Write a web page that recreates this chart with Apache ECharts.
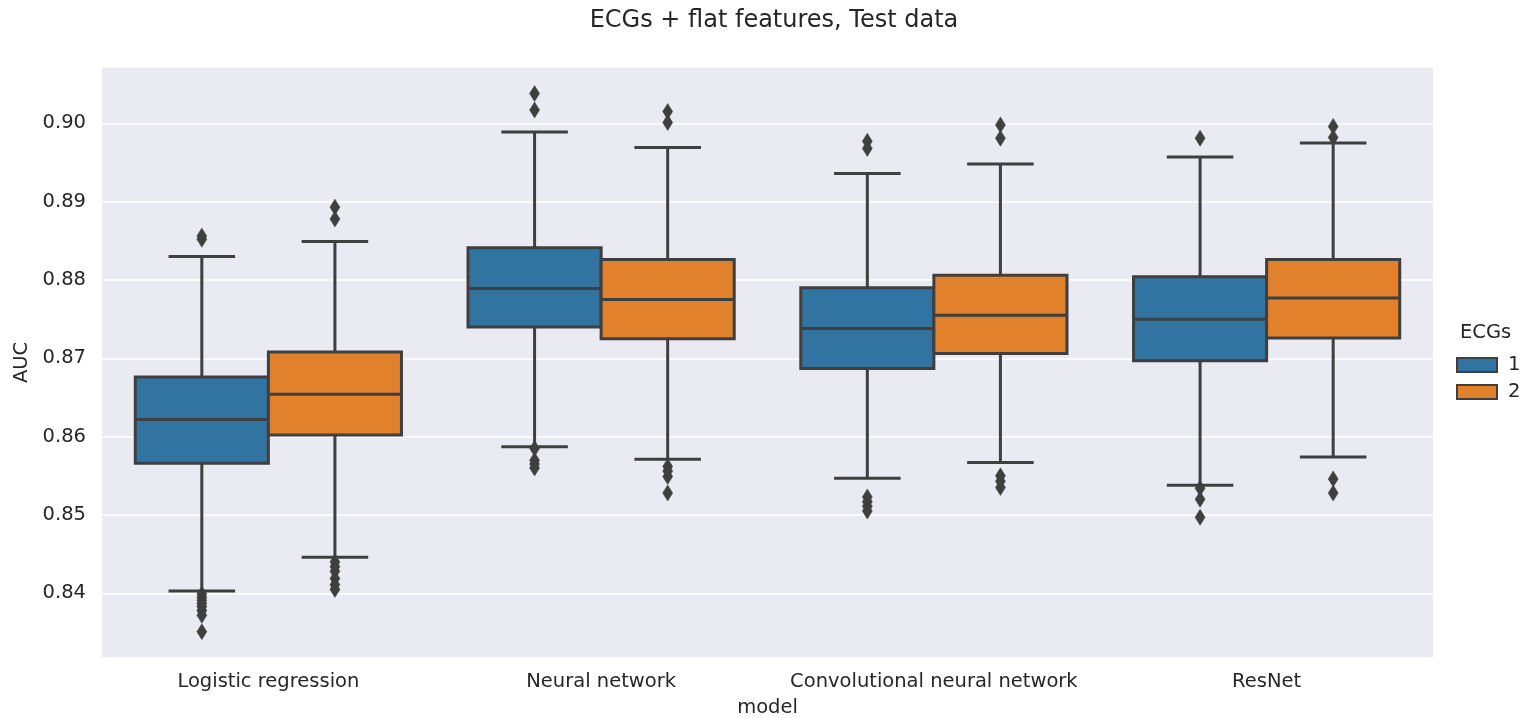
<!DOCTYPE html>
<html>
<head>
<meta charset="utf-8">
<script src="https://cdn.jsdelivr.net/npm/echarts@6/dist/echarts.min.js"></script>
<style>
  html, body { margin: 0; padding: 0; background: #ffffff; }
  #chart { width: 1522px; height: 718px; }
</style>
</head>
<body>
<div id="chart"></div>
<script>
// Categories and hue levels
const models = ['Logistic regression', 'Neural network', 'Convolutional neural network', 'ResNet'];
const hueLevels = ['1', '2'];

// Box statistics per model: [lower whisker, Q1, median, Q3, upper whisker]
const ecg1Boxes = [
  [0.8403, 0.8566, 0.8622, 0.8676, 0.8830],
  [0.8587, 0.8740, 0.8789, 0.8841, 0.8989],
  [0.8547, 0.8687, 0.8738, 0.8790, 0.8936],
  [0.8538, 0.8697, 0.8750, 0.8804, 0.8957]
];
const ecg2Boxes = [
  [0.8446, 0.8602, 0.8654, 0.8708, 0.8849],
  [0.8571, 0.8725, 0.8775, 0.8826, 0.8969],
  [0.8567, 0.8706, 0.8755, 0.8806, 0.8948],
  [0.8574, 0.8726, 0.8777, 0.8826, 0.8975]
];

// Points beyond the whiskers, per model
const ecg1Outliers = [
  [0.8856, 0.8852, 0.8399, 0.8395, 0.8391, 0.8387, 0.8383, 0.8378, 0.8372, 0.8351],
  [0.9038, 0.9017, 0.8585, 0.8570, 0.8565, 0.8560],
  [0.8977, 0.8968, 0.8523, 0.8517, 0.8511, 0.8505],
  [0.8981, 0.8534, 0.8520, 0.8497]
];
const ecg2Outliers = [
  [0.8893, 0.8878, 0.8440, 0.8434, 0.8428, 0.8419, 0.8411, 0.8405],
  [0.9015, 0.9001, 0.8562, 0.8556, 0.8549, 0.8528],
  [0.8998, 0.8981, 0.8550, 0.8543, 0.8535],
  [0.8996, 0.8982, 0.8546, 0.8528]
];

const FONT = 'DejaVu Sans';
const TEXT = '#262626';
const EDGE = '#3f3f3f';
const FILLS = ['#3274a1', '#e1812c'];
const LW = 3;
const FS = 19.5;

// Horizontal placement of a hue box inside its category band
function boxGeom(api, cat, hueIdx) {
  const band = api.size([1, 0])[0];
  const center = api.coord([cat, 0.87])[0];
  const w = band * 0.4;
  const left = center - band * 0.4 + hueIdx * w;
  return { left: left, w: w, mid: left + w / 2 };
}

function boxRenderer(hueIdx) {
  return function (params, api) {
    const cat = api.value(0);
    const g = boxGeom(api, cat, hueIdx);
    const y = function (i) { return api.coord([cat, api.value(i)])[1]; };
    const yMin = y(1), yQ1 = y(2), yMed = y(3), yQ3 = y(4), yMax = y(5);
    const ls = { stroke: EDGE, lineWidth: LW };
    const cap = g.w / 4;
    return {
      type: 'group',
      children: [
        { type: 'line', shape: { x1: g.mid, y1: yQ3, x2: g.mid, y2: yMax }, style: ls },
        { type: 'line', shape: { x1: g.mid, y1: yQ1, x2: g.mid, y2: yMin }, style: ls },
        { type: 'line', shape: { x1: g.mid - cap, y1: yMax, x2: g.mid + cap, y2: yMax }, style: ls },
        { type: 'line', shape: { x1: g.mid - cap, y1: yMin, x2: g.mid + cap, y2: yMin }, style: ls },
        { type: 'rect', shape: { x: g.left, y: yQ3, width: g.w, height: yQ1 - yQ3 },
          style: { fill: FILLS[hueIdx], stroke: EDGE, lineWidth: LW } },
        { type: 'line', shape: { x1: g.left, y1: yMed, x2: g.left + g.w, y2: yMed }, style: ls }
      ]
    };
  };
}

function outlierRenderer(hueIdx) {
  return function (params, api) {
    const cat = api.value(0);
    const g = boxGeom(api, cat, hueIdx);
    const yc = api.coord([cat, api.value(1)])[1];
    const hw = 5, hh = 8;
    return {
      type: 'polygon',
      shape: { points: [[g.mid, yc - hh], [g.mid + hw, yc], [g.mid, yc + hh], [g.mid - hw, yc]] },
      style: { fill: EDGE, stroke: EDGE, lineWidth: 0.5 }
    };
  };
}

function boxData(boxes) {
  return boxes.map(function (b, i) { return [i].concat(b); });
}
function outlierData(outs) {
  const rows = [];
  outs.forEach(function (list, i) { list.forEach(function (v) { rows.push([i, v]); }); });
  return rows;
}

const chart = echarts.init(document.getElementById('chart'));
chart.setOption({
  animation: false,
  backgroundColor: '#ffffff',
  textStyle: { fontFamily: FONT },
  grid: {
    left: 102, right: 89, top: 67, bottom: 60,
    outerBoundsMode: 'none',
    containLabel: false,
    show: true, backgroundColor: '#eaeaf2', borderWidth: 0
  },
  graphic: [
    { type: 'text', x: 774, y: 9,
      style: { text: 'ECGs + flat features, Test data', font: '24px "DejaVu Sans"', fill: TEXT,
               align: 'center', verticalAlign: 'top' } },
    { type: 'text', left: 1460, top: 323,
      style: { text: 'ECGs', font: FS + 'px "DejaVu Sans"', fill: TEXT } }
  ],
  legend: {
    data: hueLevels,
    orient: 'vertical',
    left: 1451, top: 350,
    icon: 'rect',
    itemWidth: 40, itemHeight: 14, itemGap: 7,
    selectedMode: false,
    textStyle: { fontSize: FS, color: TEXT, fontFamily: FONT, padding: [0, 0, 0, 6] }
  },
  xAxis: {
    type: 'category',
    data: models,
    name: 'model',
    nameLocation: 'middle',
    nameGap: 40,
    nameTextStyle: { fontSize: FS, color: TEXT, fontFamily: FONT },
    axisLine: { show: false },
    axisTick: { show: false },
    axisLabel: { interval: 0, fontSize: FS, color: TEXT, fontFamily: FONT, margin: 14 },
    splitLine: { show: false }
  },
  yAxis: {
    type: 'value',
    min: 0.83174,
    max: 0.90719,
    splitNumber: 8,
    name: 'AUC',
    nameLocation: 'middle',
    nameGap: 69,
    nameTextStyle: { fontSize: FS, color: TEXT, fontFamily: FONT },
    axisLine: { show: false },
    axisTick: { show: false },
    axisLabel: {
      fontSize: FS, color: TEXT, fontFamily: FONT, margin: 16,
      showMinLabel: false, showMaxLabel: false,
      formatter: function (v) { return v.toFixed(2); }
    },
    splitLine: { show: true, lineStyle: { color: '#ffffff', width: 1.5 } }
  },
  series: [
    { name: hueLevels[0], type: 'custom', renderItem: boxRenderer(0),
      itemStyle: { color: FILLS[0], borderColor: EDGE, borderWidth: 1.5 },
      encode: { x: 0, y: [1, 2, 3, 4, 5] }, data: boxData(ecg1Boxes), z: 2 },
    { name: hueLevels[1], type: 'custom', renderItem: boxRenderer(1),
      itemStyle: { color: FILLS[1], borderColor: EDGE, borderWidth: 1.5 },
      encode: { x: 0, y: [1, 2, 3, 4, 5] }, data: boxData(ecg2Boxes), z: 2 },
    { name: 'outliers 1', type: 'custom', renderItem: outlierRenderer(0),
      encode: { x: 0, y: 1 }, data: outlierData(ecg1Outliers), z: 3 },
    { name: 'outliers 2', type: 'custom', renderItem: outlierRenderer(1),
      encode: { x: 0, y: 1 }, data: outlierData(ecg2Outliers), z: 3 }
  ]
});
</script>
</body>
</html>
